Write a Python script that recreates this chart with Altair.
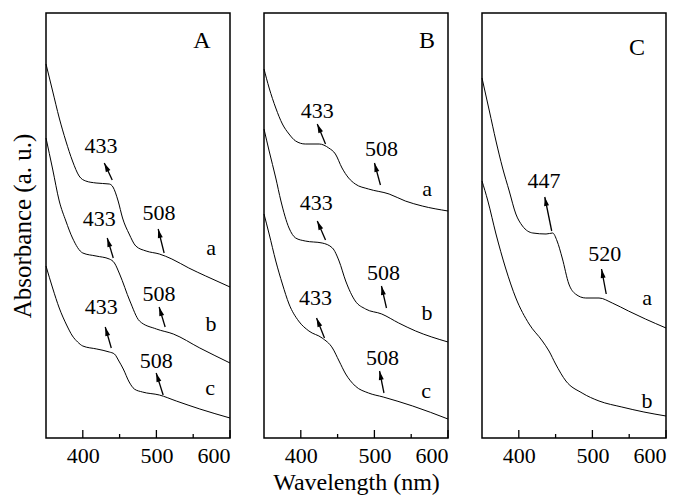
import math
import altair as alt
import pandas as pd

FONT = "Liberation Serif"
W, H = 184, 425
XTICKS = [400, 500, 600]
MAJOR_TICKS = [400, 500, 600]
MINOR_TICKS = [450, 550]

# ---------------- Panel A ----------------
A_a_wl = [350, 359, 368, 377, 386, 395, 404, 418, 436, 441, 448, 454, 463, 472, 486, 504, 521, 544, 567, 600]
A_a_ab = [374, 347, 320, 297, 277, 262, 257, 255, 254, 251, 237, 220, 204, 192, 187, 184, 179, 170, 162, 151]
A_b_wl = [350, 359, 368, 377, 386, 400, 418, 436, 443, 450, 464, 477, 500, 523, 559, 600]
A_b_ab = [300, 269, 237, 217, 200, 185, 182, 179, 175, 164, 137, 117, 109, 104, 90, 75]
A_c_wl = [350, 359, 368, 378, 386, 393, 400, 419, 436, 443, 449, 455, 463, 470, 481, 504, 527, 559, 600]
A_c_ab = [172, 150, 130, 113, 102, 96, 92, 89, 86, 84, 77, 69, 56, 49, 46, 43, 37, 29, 20]
A_ann_txt = ["433", "508", "433", "508", "433", "508"]
A_ann_x = [424.7, 503.7, 422.4, 503.7, 425.0, 499.7]
A_ann_y = [292, 225, 219, 144, 131, 77]
A_tail_x = [440.0, 510.5, 441.4, 511.9, 438.7, 509.2]
A_tail_y = [258, 185, 180, 111, 90, 43]
A_head_x = [429.2, 502.4, 433.2, 503.7, 430.5, 499.7]
A_head_y = [275, 209, 200, 131, 111, 65]
A_lab_txt = ["a", "b", "c", "A"]
A_lab_x = [574.2, 574.2, 572.9, 562.0]
A_lab_y = [190, 114, 50, 397]

# ---------------- Panel B ----------------
B_a_wl = [350, 357, 366, 375, 384, 393, 406, 425, 438, 447, 456, 465, 474, 492, 520, 542, 565, 600]
B_a_ab = [369, 350, 330, 314, 304, 297, 294, 294, 290, 284, 270, 260, 254, 249, 244, 237, 232, 227]
B_b_wl = [350, 357, 366, 373, 384, 393, 406, 429, 443, 452, 461, 474, 488, 510, 533, 556, 600]
B_b_ab = [309, 287, 260, 237, 210, 200, 197, 195, 190, 177, 157, 137, 129, 124, 115, 107, 96]
B_c_wl = [350, 357, 366, 375, 384, 397, 411, 429, 443, 452, 461, 474, 492, 512, 552, 600]
B_c_ab = [224, 204, 177, 154, 134, 117, 107, 100, 90, 77, 64, 52, 45, 41, 32, 19]
B_ann_txt = ["433", "508", "433", "508", "433", "508"]
B_ann_x = [422.4, 509.6, 421.0, 512.3, 420.0, 511.0]
B_ann_y = [327, 289, 235, 165, 140, 80]
B_tail_x = [433.6, 508.2, 433.6, 516.4, 432.2, 513.0]
B_tail_y = [294, 253, 198, 130, 100, 45]
B_head_x = [422.4, 500.1, 422.4, 509.6, 421.4, 507.0]
B_head_y = [314, 275, 217, 152, 120, 67]
B_lab_txt = ["a", "b", "c", "B"]
B_lab_x = [571.5, 571.5, 570.2, 571.5]
B_lab_y = [249, 125, 47, 397]

# ---------------- Panel C ----------------
C_a_wl = [350, 360, 369, 378, 387, 396, 405, 419, 437, 446, 452, 459, 468, 477, 491, 509, 527, 549, 572, 600]
C_a_ab = [360, 327, 297, 270, 247, 224, 212, 205, 204, 205, 197, 180, 154, 144, 140, 140, 135, 127, 119, 110]
C_b_wl = [350, 358, 369, 382, 396, 414, 432, 441, 450, 464, 486, 509, 540, 570, 600]
C_b_ab = [257, 237, 204, 170, 140, 114, 97, 87, 74, 57, 45, 37, 31, 26, 22]
C_ann_txt = ["447", "520"]
C_ann_x = [434.3, 516.9]
C_ann_y = [257, 184]
C_tail_x = [444.7, 518.8]
C_tail_y = [207, 144]
C_head_x = [435.3, 512.4]
C_head_y = [241, 169]
C_lab_txt = ["a", "b", "C"]
C_lab_x = [574.3, 574.3, 560.7]
C_lab_y = [140, 37, 390]

ARROW_PATH = "M0,0L0.5,1.8L-0.5,1.8Z"


def panel(curves, ann_txt, ann_x, ann_y, tail_x, tail_y, head_x, head_y,
          lab_txt, lab_x, lab_y, ytitle, xtitle):
    rows = []
    for name, (wl, ab) in curves.items():
        for w, a in zip(wl, ab):
            rows.append({"curve": name, "wl": w, "ab": a})
    curve_df = pd.DataFrame(rows)
    ann_df = pd.DataFrame({"txt": ann_txt, "x": ann_x, "y": ann_y})
    angs = []
    for tx, ty, hx, hy in zip(tail_x, tail_y, head_x, head_y):
        dx = (hx - tx) * W / 250.0
        dy = -(hy - ty) * H / 425.0
        angs.append(math.degrees(math.atan2(dx, -dy)) % 360)
    arr_df = pd.DataFrame({"tx": tail_x, "ty": tail_y, "hx": head_x, "hy": head_y, "ang": angs})
    lab_df = pd.DataFrame({"txt": lab_txt, "x": lab_x, "y": lab_y,
                           "size": [24 if t.isupper() else 22 for t in lab_txt]})
    major_df = pd.DataFrame({"t": MAJOR_TICKS})
    minor_df = pd.DataFrame({"t": MINOR_TICKS})

    xscale = alt.Scale(domain=[350, 600], nice=False, zero=False)
    yscale = alt.Scale(domain=[0, 425], nice=False, zero=False)
    xaxis = alt.Axis(values=XTICKS, ticks=False, domain=False, grid=False,
                     labelFont=FONT, labelFontSize=22, labelPadding=7, labelColor="black",
                     titleFont=FONT, titleFontSize=24, titleFontWeight="normal",
                     titleColor="black", titlePadding=4)
    if ytitle:
        yaxis = alt.Axis(labels=False, ticks=False, domain=False, grid=False,
                         titleFont=FONT, titleFontSize=25, titleFontWeight="normal",
                         titleColor="black", titlePadding=11)
    else:
        yaxis = None

    def X(f):
        return alt.X(f, type="quantitative", scale=xscale, axis=xaxis, title=xtitle)

    def Y(f):
        return alt.Y(f, type="quantitative", scale=yscale, axis=yaxis, title=ytitle)

    lines = alt.Chart(curve_df).mark_line(color="black", strokeWidth=1, interpolate="monotone").encode(
        x=X("wl"), y=Y("ab"), detail="curve:N")
    texts = alt.Chart(ann_df).mark_text(font=FONT, fontSize=22, align="center", baseline="middle",
                                        color="black").encode(x=X("x"), y=Y("y"), text="txt:N")
    labs = alt.Chart(lab_df).mark_text(font=FONT, align="center", baseline="middle",
                                       color="black").encode(
        x=X("x"), y=Y("y"), text="txt:N", size=alt.Size("size:Q", scale=None))
    shafts = alt.Chart(arr_df).mark_rule(color="black", strokeWidth=1.3).encode(
        x=X("tx"), y=Y("ty"), x2="hx", y2="hy")
    heads = alt.Chart(arr_df).mark_point(shape=ARROW_PATH, filled=True, size=100, color="black",
                                         opacity=1, strokeWidth=0).encode(
        x=X("hx"), y=Y("hy"), angle=alt.Angle("ang:Q", scale=None))
    major = alt.Chart(major_df).mark_rule(color="black", strokeWidth=1.3).encode(
        x=X("t"), y=alt.value(H), y2=alt.value(H - 8))
    minor = alt.Chart(minor_df).mark_rule(color="black", strokeWidth=1.3).encode(
        x=X("t"), y=alt.value(H), y2=alt.value(H - 4))
    return alt.layer(lines, shafts, heads, texts, labs, major, minor).properties(width=W, height=H)


pA = panel({"a": (A_a_wl, A_a_ab), "b": (A_b_wl, A_b_ab), "c": (A_c_wl, A_c_ab)},
           A_ann_txt, A_ann_x, A_ann_y, A_tail_x, A_tail_y, A_head_x, A_head_y,
           A_lab_txt, A_lab_x, A_lab_y, "Absorbance (a. u.)", None)
pB = panel({"a": (B_a_wl, B_a_ab), "b": (B_b_wl, B_b_ab), "c": (B_c_wl, B_c_ab)},
           B_ann_txt, B_ann_x, B_ann_y, B_tail_x, B_tail_y, B_head_x, B_head_y,
           B_lab_txt, B_lab_x, B_lab_y, None, "Wavelength (nm)")
pC = panel({"a": (C_a_wl, C_a_ab), "b": (C_b_wl, C_b_ab)},
           C_ann_txt, C_ann_x, C_ann_y, C_tail_x, C_tail_y, C_head_x, C_head_y,
           C_lab_txt, C_lab_x, C_lab_y, None, None)

chart = alt.hconcat(pA, pB, pC, spacing=34).properties(
    bounds="flush", padding={"left": 1, "top": 4, "right": 5, "bottom": 0}
).configure(background="white").configure_view(stroke="black", strokeWidth=1.5)

chart.save("out.html", embed_options={"renderer": "svg", "actions": False})
